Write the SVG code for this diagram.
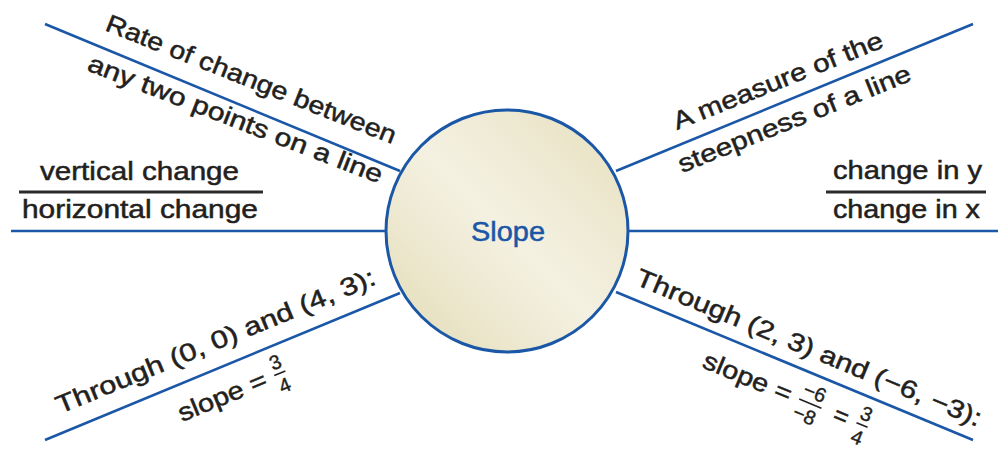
<svg xmlns="http://www.w3.org/2000/svg" width="999" height="449" viewBox="0 0 999 449">
  <defs>
    <linearGradient id="fillG" x1="1" y1="0" x2="0" y2="1">
      <stop offset="0" stop-color="#e6dfbd"/>
      <stop offset="0.5" stop-color="#f4f1e2"/>
      <stop offset="1" stop-color="#e3dbb5"/>
    </linearGradient>
    <style>
      .conn { stroke: #1a57a6; stroke-width: 2.6; fill: none; }
      .bar { stroke: #2b2b2b; stroke-width: 3; }
      .fbar { stroke: #231f20; stroke-width: 1.6; }
      .t { font-family: "Liberation Sans", "Noto Sans", sans-serif; font-size: 25px; fill: #231f20; stroke: #231f20; stroke-width: 0.5; }
      .f { font-family: "Liberation Sans", "Noto Sans", sans-serif; font-size: 20px; fill: #231f20; stroke: #231f20; stroke-width: 0.4; text-anchor: middle; }
      .title { font-family: "Liberation Sans", "Noto Sans", sans-serif; font-size: 27px; fill: #1a57a6; stroke: #1a57a6; stroke-width: 0.5; text-anchor: middle; }
    </style>
  </defs>
  <rect width="999" height="449" fill="#ffffff"/>

  <g id="connectors">
    <line class="conn" x1="45" y1="24" x2="400" y2="171"/>
    <line class="conn" x1="973" y1="24" x2="616" y2="171"/>
    <line class="conn" x1="11" y1="231" x2="386" y2="231"/>
    <line class="conn" x1="628" y1="231" x2="998" y2="231"/>
    <line class="conn" x1="45" y1="440" x2="400" y2="293"/>
    <line class="conn" x1="616" y1="292" x2="973" y2="440"/>
  </g>

  <g id="slope">
    <circle cx="507" cy="231" r="121" fill="url(#fillG)" stroke="#1a57a6" stroke-width="3"/>
    <text class="title" x="508" y="241" textLength="74" lengthAdjust="spacingAndGlyphs">Slope</text>
  </g>

  <g id="rate-of-change">
    <text class="t" transform="translate(104,30) rotate(21.6)" textLength="310" lengthAdjust="spacingAndGlyphs">Rate of change between</text>
    <text class="t" transform="translate(86,70) rotate(21.2)" textLength="314" lengthAdjust="spacingAndGlyphs">any two points on a line</text>
  </g>

  <g id="steepness">
    <text class="t" transform="translate(677,130) rotate(-21.8)" textLength="224" lengthAdjust="spacingAndGlyphs">A measure of the</text>
    <text class="t" transform="translate(682,173) rotate(-21.9)" textLength="249" lengthAdjust="spacingAndGlyphs">steepness of a line</text>
  </g>

  <g id="vertical-horizontal">
    <text class="t" x="40" y="180" textLength="199" lengthAdjust="spacingAndGlyphs">vertical change</text>
    <line class="bar" x1="19" y1="192" x2="263" y2="192"/>
    <text class="t" x="22" y="218" textLength="236" lengthAdjust="spacingAndGlyphs">horizontal change</text>
  </g>

  <g id="change-y-x">
    <text class="t" x="833" y="179" textLength="149" lengthAdjust="spacingAndGlyphs">change in y</text>
    <line class="bar" x1="826" y1="192" x2="986" y2="192"/>
    <text class="t" x="833" y="218" textLength="147" lengthAdjust="spacingAndGlyphs">change in x</text>
  </g>

  <g id="example-1">
    <text class="t" transform="translate(60,414) rotate(-22.3)" textLength="343" lengthAdjust="spacingAndGlyphs">Through (0, 0) and (4, 3):</text>
    <g transform="translate(182,422) rotate(-22.3)">
      <text class="t" x="0" y="0" textLength="94" lengthAdjust="spacingAndGlyphs">slope =</text>
      <text class="f" x="109" y="-13">3</text>
      <line class="fbar" x1="103" y1="-8" x2="115" y2="-8"/>
      <text class="f" x="109" y="12">4</text>
    </g>
  </g>

  <g id="example-2">
    <text class="t" transform="translate(634,284) rotate(22.6)" textLength="372" lengthAdjust="spacingAndGlyphs">Through (2, 3) and (−6, −3):</text>
    <g transform="translate(701,367) rotate(22.5)">
      <text class="t" x="0" y="0" textLength="94" lengthAdjust="spacingAndGlyphs">slope =</text>
      <text class="f" x="115" y="-13">−6</text>
      <line class="fbar" x1="103" y1="-8" x2="127" y2="-8"/>
      <text class="f" x="114" y="12">−8</text>
      <text class="t" x="141" y="0">=</text>
      <text class="f" x="171" y="-13">3</text>
      <line class="fbar" x1="165" y1="-8" x2="177" y2="-8"/>
      <text class="f" x="171" y="12">4</text>
    </g>
  </g>
</svg>
